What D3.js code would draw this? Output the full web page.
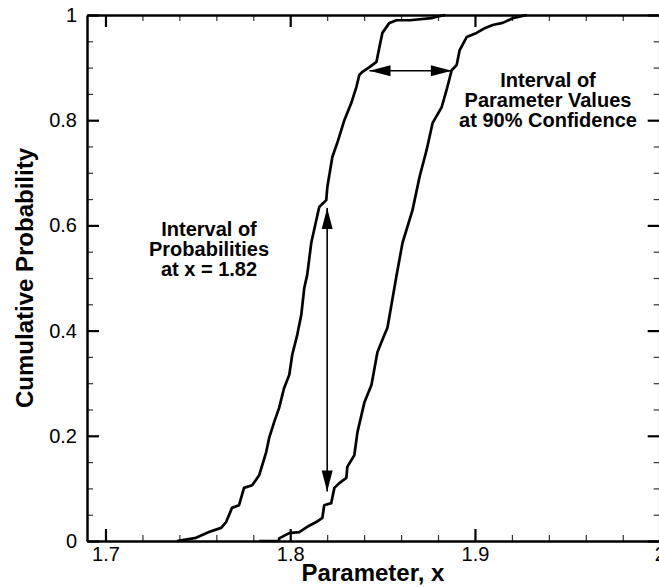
<!DOCTYPE html>
<html>
<head>
<meta charset="utf-8">
<script src="https://cdn.jsdelivr.net/npm/d3@7"></script>
<style>
  body { margin: 0; background: #fff; }
  svg text { font-family: "Liberation Sans", Arial, Helvetica, sans-serif; fill: #000; }
  .tickLabel text { font-size: 20px; }
  .annot { font-size: 20px; font-weight: bold; }
  .title { font-size: 24px; font-weight: bold; }
</style>
</head>
<body>
<svg class="main" width="659" height="587"></svg>
<script>
'use strict';

// lower bound cdf (left curve)
var lowerX = [1.7387, 1.7490, 1.7560, 1.7626, 1.7653, 1.7685, 1.7723, 1.7750, 1.7794, 1.7832,
              1.7870, 1.7886, 1.7913, 1.7940, 1.7967, 1.7995, 1.8011, 1.8038, 1.8060, 1.8076,
              1.8092, 1.8114, 1.8157, 1.8195, 1.8201, 1.8228, 1.8255, 1.8293, 1.8331, 1.8358,
              1.8374, 1.8391, 1.8429, 1.8467, 1.8483, 1.8499, 1.8537, 1.8575, 1.8646, 1.8765,
              1.8808, 1.8840];
var lowerP = [0, 0.006, 0.017, 0.025, 0.036, 0.063, 0.068, 0.101, 0.106, 0.125,
              0.169, 0.196, 0.226, 0.253, 0.291, 0.316, 0.354, 0.392, 0.430, 0.481,
              0.506, 0.567, 0.635, 0.648, 0.673, 0.730, 0.757, 0.800, 0.833, 0.863,
              0.886, 0.892, 0.901, 0.911, 0.939, 0.966, 0.985, 0.990, 0.990, 0.994,
              0.998, 1.0];

// upper bound cdf (right curve)
var upperX = [1.7832, 1.7940, 1.7940, 1.7995, 1.8049, 1.8092, 1.8141, 1.8174, 1.8184, 1.8222,
              1.8239, 1.8266, 1.8304, 1.8309, 1.8347, 1.8364, 1.8402, 1.8440, 1.8472, 1.8510,
              1.8526, 1.8548, 1.8575, 1.8608, 1.8662, 1.8700, 1.8738, 1.8771, 1.8820, 1.8846,
              1.8874, 1.8901, 1.8917, 1.8955, 1.9009, 1.9053, 1.9096, 1.9150, 1.9205, 1.9281];
var upperP = [0, 0, 0.005, 0.015, 0.017, 0.027, 0.036, 0.044, 0.068, 0.072,
              0.101, 0.110, 0.120, 0.141, 0.163, 0.207, 0.264, 0.297, 0.359, 0.392,
              0.405, 0.449, 0.504, 0.567, 0.629, 0.692, 0.743, 0.795, 0.825, 0.857,
              0.895, 0.905, 0.933, 0.958, 0.966, 0.975, 0.981, 0.985, 0.994, 1.0];

var xMajor = [1.7, 1.8, 1.9, 2.0];
var xTickLabels = ['1.7', '1.8', '1.9', '2'];
var yMajor = [0, 0.2, 0.4, 0.6, 0.8, 1];
var yTickLabels = ['0', '0.2', '0.4', '0.6', '0.8', '1'];

// arrows: [x1, y1, x2, y2] in data units
var probArrow = [1.82, 0.094, 1.82, 0.633];
var paramArrow = [1.8429, 0.894, 1.8875, 0.894];

var probText = ['Interval of', 'Probabilities', 'at x = 1.82'];
var paramText = ['Interval of', 'Parameter Values', 'at 90% Confidence'];

(function () {
    var svg = d3.select('svg.main');
    var mLeft = 87, mRight = 659.7, mTop = 15, mBottom = 541;

    var x = d3.scaleLinear().domain([1.69, 2.0]).range([mLeft, mRight]);
    var y = d3.scaleLinear().domain([0, 1]).range([mBottom, mTop]);

    var xMinor = d3.range(1.72, 2.0, 0.02).filter(function (v) {
        return Math.abs(v * 10 - Math.round(v * 10)) > 1e-6;
    });
    var yMinor = d3.range(0.05, 1, 0.05).filter(function (v) {
        return Math.abs(v * 5 - Math.round(v * 5)) > 1e-6;
    });

    function minorAxis(axis, vals) {
        return axis.tickValues(vals).tickSizeInner(-6).tickSizeOuter(0).tickFormat('');
    }

    // minor ticks
    var minors = svg.append('g').attr('class', 'minor');
    minors.append('g').attr('transform', 'translate(0,' + mBottom + ')').call(minorAxis(d3.axisBottom(x), xMinor));
    minors.append('g').attr('transform', 'translate(0,' + mTop + ')').call(minorAxis(d3.axisTop(x), xMinor));
    minors.append('g').attr('transform', 'translate(' + mLeft + ',0)').call(minorAxis(d3.axisLeft(y), yMinor));
    minors.append('g').attr('transform', 'translate(' + mRight + ',0)').call(minorAxis(d3.axisRight(y), yMinor));
    minors.selectAll('.domain').remove();
    minors.selectAll('line').attr('stroke', '#333').attr('stroke-width', 1.2);

    // major ticks + labels
    var bottomAxis = svg.append('g').attr('class', 'tickLabel')
        .attr('transform', 'translate(0,' + mBottom + ')')
        .call(d3.axisBottom(x).tickValues(xMajor).tickSizeInner(-12).tickSizeOuter(0).tickPadding(6)
            .tickFormat(function (d, i) { return xTickLabels[i]; }));
    var topAxis = svg.append('g')
        .attr('transform', 'translate(0,' + mTop + ')')
        .call(d3.axisTop(x).tickValues(xMajor).tickSizeInner(-12).tickSizeOuter(0).tickFormat(''));
    var leftAxis = svg.append('g').attr('class', 'tickLabel')
        .attr('transform', 'translate(' + mLeft + ',0)')
        .call(d3.axisLeft(y).tickValues(yMajor).tickSizeInner(-12).tickSizeOuter(0).tickPadding(10)
            .tickFormat(function (d, i) { return yTickLabels[i]; }));
    var rightAxis = svg.append('g')
        .attr('transform', 'translate(' + mRight + ',0)')
        .call(d3.axisRight(y).tickValues(yMajor).tickSizeInner(-12).tickSizeOuter(0).tickFormat(''));

    [bottomAxis, topAxis, leftAxis, rightAxis].forEach(function (g) {
        g.select('.domain').attr('stroke', '#000').attr('stroke-width', 2.5);
        g.selectAll('.tick line').attr('stroke', '#000').attr('stroke-width', 2.2);
        g.selectAll('.tick text').attr('font-family', null).attr('font-size', null).attr('fill', '#000');
    });

    // curves
    var line = d3.line()
        .x(function (d) { return x(d[0]); })
        .y(function (d) { return y(d[1]); });

    var curves = [d3.zip(lowerX, lowerP), d3.zip(upperX, upperP)];
    svg.append('g').selectAll('path')
        .data(curves)
        .enter()
        .append('path')
        .attr('d', line)
        .attr('fill', 'none')
        .attr('stroke', '#000')
        .attr('stroke-width', 2.7)
        .attr('stroke-linejoin', 'round');

    // arrows with filled heads on both ends
    function drawArrow(a) {
        var x1 = x(a[0]), y1 = y(a[1]), x2 = x(a[2]), y2 = y(a[3]);
        var ang = Math.atan2(y2 - y1, x2 - x1);
        var hl = 21, hw = 5.5;
        var g = svg.append('g');
        g.append('line')
            .attr('x1', x1).attr('y1', y1).attr('x2', x2).attr('y2', y2)
            .attr('stroke', '#000').attr('stroke-width', 1.6);
        [[x1, y1, ang + Math.PI], [x2, y2, ang]].forEach(function (p) {
            var tx = p[0], ty = p[1], t = p[2];
            var bx = tx - hl * Math.cos(t), by = ty - hl * Math.sin(t);
            var pts = [
                [tx, ty],
                [bx + hw * Math.sin(t), by - hw * Math.cos(t)],
                [bx - hw * Math.sin(t), by + hw * Math.cos(t)]
            ];
            g.append('polygon').attr('points', pts.join(' ')).attr('fill', '#000');
        });
    }
    drawArrow(probArrow);
    drawArrow(paramArrow);

    // annotation text blocks
    function drawBlock(lines, cx, firstBaseline) {
        svg.append('text')
            .attr('class', 'annot')
            .attr('text-anchor', 'middle')
            .selectAll('tspan')
            .data(lines)
            .enter()
            .append('tspan')
            .attr('x', cx)
            .attr('y', function (d, i) { return firstBaseline + i * 20; })
            .text(function (d) { return d; });
    }
    drawBlock(probText, 209, 236);
    drawBlock(paramText, 548, 87);

    // axis titles
    svg.append('text')
        .attr('class', 'title')
        .attr('text-anchor', 'middle')
        .attr('x', 373)
        .attr('y', 581)
        .text('Parameter, x');

    svg.append('text')
        .attr('class', 'title')
        .attr('text-anchor', 'middle')
        .attr('transform', 'translate(33,' + ((mTop + mBottom) / 2) + ') rotate(-90)')
        .text('Cumulative Probability');
})();
</script>
</body>
</html>
